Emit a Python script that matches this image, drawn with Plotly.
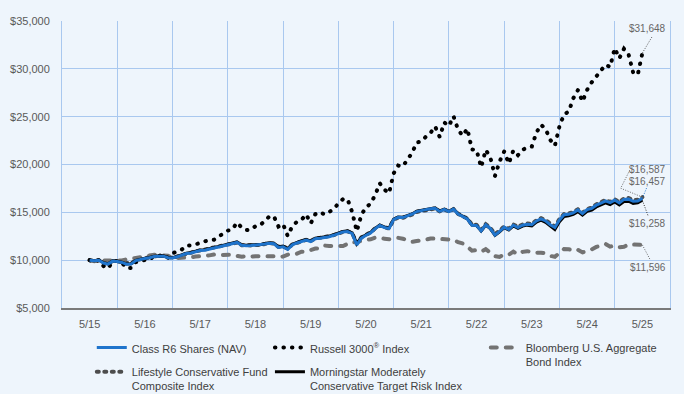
import plotly.graph_objects as go

# ---------------- data (monthly, 5/2015 .. 5/2025) ----------------
tick_labels = ["5/15", "5/16", "5/17", "5/18", "5/19", "5/20", "5/21", "5/22", "5/23", "5/24", "5/25"]

class_r6 = [
    10000, 9930, 9990, 9700, 9590, 9900, 9850, 9760,
    9580, 9590, 9950, 10080, 10180, 10250, 10380, 10400, 10420, 10260, 10220, 10350,
    10520, 10700, 10760, 10900, 11000, 11040, 11180, 11280, 11370, 11480, 11600, 11680,
    11850, 11550, 11500, 11530, 11580, 11560, 11680, 11760, 11720, 11330, 11400, 11120,
    11600, 11800, 11980, 12100, 11950, 12250, 12300, 12350, 12450, 12600, 12760, 12950,
    13000, 12780, 11600, 12300, 12600, 12850, 13300, 13620, 13420, 13300, 14250, 14480,
    14450, 14600, 14800, 15080, 15150, 15280, 15380, 15420, 15100, 15300, 15080, 15330,
    14820, 14550, 14300, 13650, 13620, 13060, 13700, 13300, 12620, 13000, 13450, 13200,
    13650, 13400, 13650, 13760, 13700, 14100, 14320, 14100, 13700, 13420, 14200, 14750,
    14800, 14950, 15250, 14880, 15280, 15420, 15750, 15950, 16200, 16020, 16280, 15980,
    16350, 16380, 16150, 16180, 16457,
]

russell_3000 = [
    10000, 9830, 10000, 9390, 9130, 9870, 9920, 9730,
    9190, 9180, 9800, 9860, 10030, 10050, 10450, 10470, 10490, 10260, 10720, 10910,
    11110, 11520, 11530, 11650, 11790, 11900, 12120, 12140, 12440, 12710, 13090, 13230,
    13930, 13420, 13140, 13190, 13550, 13640, 14080, 14560, 14580, 13510, 13770, 12530,
    13560, 14010, 14220, 14790, 13840, 14810, 15030, 14770, 15030, 15350, 15930, 16380,
    16370, 15020, 13020, 14740, 15530, 15900, 16820, 18030, 17380, 17000, 19070, 19890,
    19810, 20440, 21210, 22290, 22410, 22910, 23300, 23980, 22880, 24390, 24030, 25050,
    23630, 23010, 23750, 21570, 21510, 19710, 21530, 20720, 18800, 20310, 21360, 20100,
    21480, 20980, 21540, 21780, 21880, 23330, 24160, 23700, 22570, 21960, 23990, 25250,
    25520, 26910, 27770, 26580, 27790, 28590, 29170, 29800, 30430, 30200, 32150, 31100,
    32090, 31520, 29610, 29390, 31648,
]

bloomberg_agg = [
    10000, 9890, 9960, 9950, 10020, 10020, 9990, 9960,
    10090, 10170, 10260, 10300, 10300, 10490, 10560, 10550, 10540, 10460, 10210, 10220,
    10240, 10310, 10300, 10380, 10460, 10450, 10500, 10590, 10530, 10540, 10530, 10580,
    10460, 10360, 10430, 10350, 10420, 10410, 10410, 10470, 10400, 10320, 10380, 10570,
    10680, 10680, 10880, 10890, 11080, 11220, 11240, 11530, 11470, 11500, 11490, 11480,
    11700, 11910, 11840, 12050, 12110, 12180, 12360, 12260, 12250, 12190, 12310, 12330,
    12240, 12060, 11910, 12000, 12040, 12140, 12270, 12250, 12140, 12140, 12170, 12140,
    11880, 11750, 11420, 10990, 11060, 10880, 11150, 10840, 10420, 10330, 10600, 10570,
    10890, 10610, 10870, 10940, 10830, 10790, 10780, 10710, 10450, 10350, 10750, 11170,
    11150, 10990, 11090, 10810, 10990, 11130, 11380, 11550, 11700, 11410, 11530, 11340,
    11400, 11650, 11640, 11680, 11596,
]

lifestyle_composite = [
    10000, 9940, 10000, 9730, 9630, 9920, 9880, 9800,
    9640, 9660, 9990, 10110, 10200, 10290, 10410, 10430, 10440, 10300, 10250, 10380,
    10540, 10720, 10780, 10920, 11020, 11060, 11200, 11300, 11380, 11490, 11610, 11690,
    11840, 11570, 11520, 11540, 11590, 11580, 11690, 11770, 11730, 11380, 11450, 11200,
    11640, 11830, 12010, 12120, 12000, 12280, 12330, 12400, 12480, 12620, 12780, 12960,
    13020, 12830, 11760, 12380, 12660, 12900, 13330, 13620, 13440, 13320, 14230, 14460,
    14430, 14560, 14760, 15040, 15120, 15260, 15360, 15400, 15100, 15290, 15080, 15320,
    14850, 14580, 14350, 13720, 13690, 13150, 13760, 13380, 12720, 13080, 13520, 13290,
    13730, 13480, 13730, 13840, 13780, 14170, 14380, 14170, 13790, 13520, 14280, 14830,
    14880, 15020, 15310, 14960, 15350, 15500, 15830, 16040, 16290, 16100, 16360, 16080,
    16450, 16490, 16280, 16310, 16587,
]

morningstar_mod_cons = [
    10000, 9950, 10020, 9740, 9620, 9930, 9880, 9790,
    9610, 9620, 9980, 10110, 10210, 10280, 10410, 10430, 10450, 10290, 10250, 10380,
    10550, 10740, 10810, 10960, 11060, 11100, 11240, 11340, 11430, 11540, 11660, 11740,
    11910, 11620, 11570, 11600, 11640, 11620, 11740, 11820, 11780, 11400, 11470, 11190,
    11660, 11860, 12040, 12160, 12010, 12310, 12360, 12410, 12510, 12660, 12820, 13010,
    13060, 12850, 11750, 12380, 12660, 12900, 13350, 13660, 13470, 13350, 14290, 14520,
    14490, 14640, 14830, 15110, 15190, 15320, 15420, 15460, 15140, 15340, 15110, 15360,
    14850, 14580, 14330, 13670, 13620, 13060, 13680, 13290, 12600, 12960, 13400, 13150,
    13580, 13320, 13560, 13660, 13590, 13970, 14180, 13950, 13530, 13200, 14010, 14570,
    14630, 14780, 15070, 14700, 15100, 15240, 15560, 15760, 16000, 15820, 16080, 15780,
    16140, 16170, 15940, 15990, 16258,
]

months = list(range(len(class_r6)))
year_ticks = list(range(0, len(class_r6), 12))

# ---------------- style ----------------
FONT = "Liberation Sans, Arial, sans-serif"
BG = "#EEF5FC"
GRID = "#A9C8EF"
BLUE = "#1F74CC"
BLACK = "#000000"
GRAY_BB = "#737373"
GRAY_LS = "#4D4D4D"

fig = go.Figure()

fig.add_trace(go.Scatter(
    x=months, y=lifestyle_composite, mode="lines",
    name="Lifestyle Conservative Fund<br>Composite Index",
    line=dict(color=GRAY_LS, width=4, dash="2px,5.5px"),
    legend="legend4", hoverinfo="skip"))

fig.add_trace(go.Scatter(
    x=months, y=bloomberg_agg, mode="lines",
    name="Bloomberg U.S. Aggregate<br>Bond Index",
    line=dict(color=GRAY_BB, width=4, dash="6px,9px"),
    legend="legend3", hoverinfo="skip"))

fig.add_trace(go.Scatter(
    x=months, y=russell_3000, mode="lines",
    name="Russell 3000<sup>®</sup> Index",
    line=dict(color=BLACK, width=4, dash="0.5px,8px"),
    legend="legend2", hoverinfo="skip"))

fig.add_trace(go.Scatter(
    x=months, y=morningstar_mod_cons, mode="lines",
    name="Morningstar Moderately<br>Conservative Target Risk Index",
    line=dict(color=BLACK, width=3),
    legend="legend5", hoverinfo="skip"))

fig.add_trace(go.Scatter(
    x=months, y=class_r6, mode="lines",
    name="Class R6 Shares (NAV)",
    line=dict(color=BLUE, width=3),
    legend="legend", hoverinfo="skip"))

# ---------------- end-value labels with dotted leaders ----------------
last = len(class_r6) - 1
labels = [
    (russell_3000, "#555555", [(2.1, 33350)], 34200),
    (lifestyle_composite, "#666666", [(-4.7, 17520), (-2.7, 19450)], 19450),
    (class_r6, BLUE, [(1.0, 17650)], 18200),
    (morningstar_mod_cons, "#333333", [(1.3, 14560)], 13790),
    (bloomberg_agg, "#666666", [(1.7, 10040)], 9235),
]
for series, col, path, label_y in labels:
    xs = [months[last]] + [months[last] + dx for dx, _ in path]
    ys = [series[last]] + [yy for _, yy in path]
    fig.add_trace(go.Scatter(
        x=xs, y=ys, mode="lines", showlegend=False, hoverinfo="skip",
        line=dict(color=col, width=1, dash="1px,1.5px")))
    fig.add_annotation(
        x=months[last] + 5.6, y=label_y, xref="x", yref="y",
        text="${:,}".format(series[last]), showarrow=False,
        xanchor="right", yanchor="middle",
        font=dict(family=FONT, size=10, color="#666666"))

# ---------------- layout ----------------
legend_common = dict(
    orientation="v", xanchor="left", yanchor="top",
    bgcolor="rgba(0,0,0,0)", borderwidth=0, valign="top",
    font=dict(family=FONT, size=11, color="#404040"),
    itemwidth=30,
)

fig.update_layout(
    width=684, height=394,
    margin=dict(l=62, r=14, t=21, b=86, autoexpand=False),
    paper_bgcolor=BG, plot_bgcolor=BG,
    font=dict(family=FONT, size=11, color="#595959"),
    xaxis=dict(
        range=[-6, last + 6],
        tickmode="array", tickvals=year_ticks, ticktext=tick_labels,
        showgrid=False, zeroline=False,
        showline=True, linecolor="#7A7A7A", linewidth=1.5,
        ticks="", ticklabelstandoff=5,
        tickfont=dict(family=FONT, size=11, color="#595959"),
        minor=dict(tickmode="linear", tick0=-6, dtick=12,
                   showgrid=True, gridcolor=GRID, gridwidth=1, ticks=""),
    ),
    yaxis=dict(
        range=[5000, 35000], dtick=5000, tick0=5000,
        tickprefix="$", tickformat=",d",
        showgrid=True, gridcolor=GRID, gridwidth=1, zeroline=False,
        showline=True, linecolor=GRID, linewidth=1, mirror=True,
        ticks="", ticklabelstandoff=9,
        tickfont=dict(family=FONT, size=11, color="#595959"),
    ),
    legend=dict(x=0.049, y=-0.0897, **legend_common),
    legend2=dict(x=0.342, y=-0.0897, **legend_common),
    legend3=dict(x=0.697, y=-0.0897, **legend_common),
    legend4=dict(x=0.049, y=-0.1748, **legend_common),
    legend5=dict(x=0.342, y=-0.1748, **legend_common),
)

# round line caps for the dotted / dashed series (chart and legend)
css = (
    ".scatterlayer .trace:nth-child(1) path.js-line,"
    ".scatterlayer .trace:nth-child(2) path.js-line,"
    ".scatterlayer .trace:nth-child(3) path.js-line,"
    "g.legend2 path.js-line, g.legend3 path.js-line, g.legend4 path.js-line"
    "{stroke-linecap: round !important;}"
)
post = (
    "document.body.style.margin='0';"
    "document.body.style.background='%s';"
    "var st=document.createElement('style');st.textContent='%s';"
    "document.head.appendChild(st);" % (BG, css)
)

fig.write_html(
    "out.html",
    config={"displayModeBar": False},
    post_script=post,
)
